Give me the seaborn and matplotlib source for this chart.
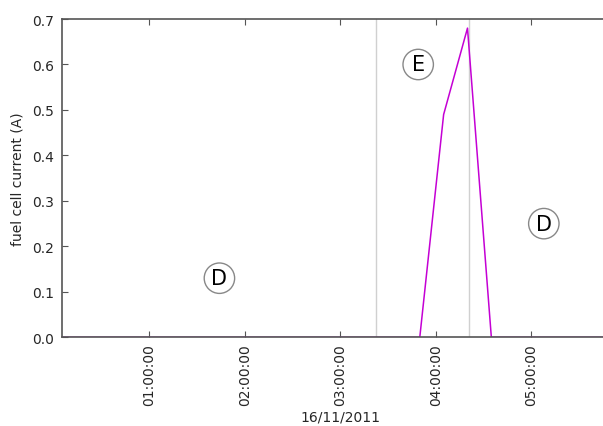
import pandas as pd
import matplotlib
matplotlib.use('Agg')
import matplotlib.pyplot as plt
import matplotlib.dates as mdates
import seaborn as sns

# Data: fuel cell current sampled every 15 min on 16/11/2011
times = ['00:05', '00:20', '00:35', '00:50', '01:05', '01:20', '01:35', '01:50',
         '02:05', '02:20', '02:35', '02:50', '03:05', '03:20', '03:35', '03:50',
         '04:05', '04:20', '04:35', '04:50', '05:05', '05:20', '05:35', '05:50']
current = [0, 0, 0, 0, 0, 0, 0, 0,
           0, 0, 0, 0, 0, 0, 0, 0,
           0.49, 0.68, 0, 0, 0, 0, 0, 0]

# Phases (D / E / D): boundaries and label placement
phase_bounds = ['03:22:30', '04:21:00']
phase_names = ['D', 'E', 'D']
phase_label_t = ['01:44', '03:49', '05:08']
phase_label_y = [0.13, 0.60, 0.25]
x_range = ['00:05', '05:55']

day = '2011-11-16 '
def to_dt(lst):
    return pd.to_datetime([day + t for t in lst], format='mixed')

df = pd.DataFrame({'time': to_dt(times), 'current': current})
bounds = to_dt(phase_bounds)
label_t = to_dt(phase_label_t)
xlim = to_dt(x_range)

sns.set_style('ticks', {'xtick.direction': 'in', 'ytick.direction': 'in',
                        'axes.edgecolor': '#555555'})
plt.rcParams['font.family'] = ['DejaVu Sans']

fig = plt.figure(figsize=(6.03, 4.27), dpi=100)
ax = fig.add_axes([0.1028, 0.2077, 0.923, 0.7454])

# phase boundary lines
for b in bounds:
    ax.axvline(b, color='#d0d0d0', lw=1, zorder=1)

sns.lineplot(x='time', y='current', data=df, color='#c400d4', lw=1.1, ax=ax, zorder=2)

# circled phase labels
for t, y, name in zip(label_t, phase_label_y, phase_names):
    ax.text(t, y, name, fontsize=15, ha='center', va='center', color='black',
            bbox=dict(boxstyle='circle,pad=0.25', fc='white', ec='#888888', lw=1))

ax.set_xlim(xlim[0], xlim[1])
ax.set_ylim(0, 0.7)
ax.xaxis.set_major_locator(mdates.HourLocator())
ax.xaxis.set_major_formatter(mdates.DateFormatter('%H:%M:%S'))
ax.tick_params(axis='x', rotation=90, labelsize=10, pad=4.5, length=4,
               top=True, color='#555555', labelcolor='#262626')
ax.tick_params(axis='y', labelsize=10, pad=6, length=4, right=True,
               color='#555555', labelcolor='#262626')
for s in ax.spines.values():
    s.set_linewidth(1.2)

ax.set_xlabel('16/11/2011', fontsize=10, color='#262626', labelpad=3)
ax.set_ylabel('fuel cell current (A)', fontsize=10, color='#262626', labelpad=5)

fig.savefig('out.png', dpi=100)
